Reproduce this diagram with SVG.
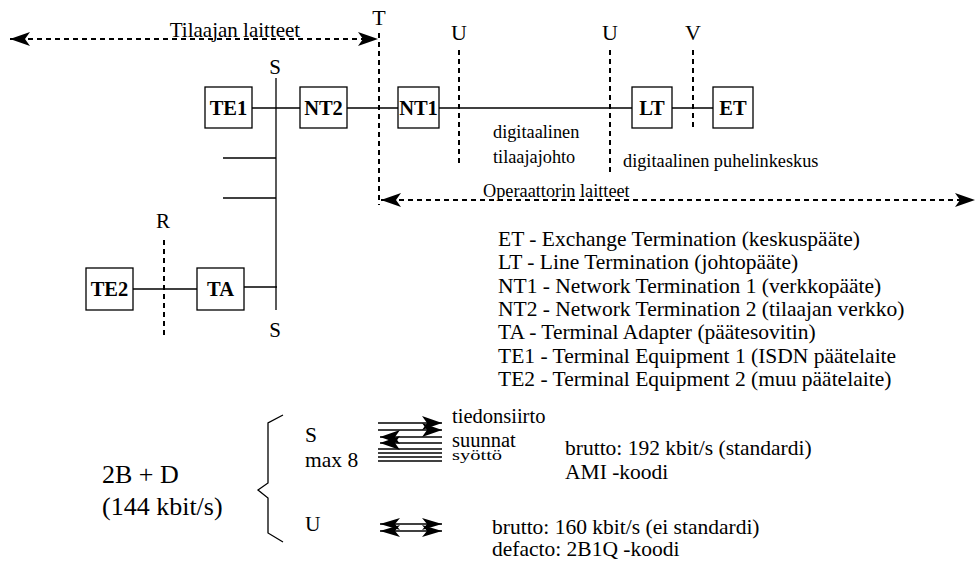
<svg xmlns="http://www.w3.org/2000/svg" width="977" height="561" viewBox="0 0 977 561">
<style>
text{font-family:'Liberation Serif','Tinos','Times New Roman','Nimbus Roman','DejaVu Serif',serif;fill:#000}
.lbl{font-size:18.3px}
.pt{font-size:22px;text-anchor:middle}
.box{font-size:20.5px;font-weight:bold;text-anchor:middle}
.leg{font-size:21.5px}
.bt{font-size:21.5px}
.sm{font-size:20.5px}
.big{font-size:26px}
rect{fill:#fff;stroke:#000;stroke-width:1.3}
.ln{stroke:#000;stroke-width:1.3;fill:none}
.dash{stroke:#000;stroke-width:2;stroke-dasharray:5 4;fill:none}
</style>
<defs>
<marker id="ah" markerUnits="userSpaceOnUse" markerWidth="22" markerHeight="16" refX="20" refY="7" orient="auto-start-reverse" viewBox="0 0 22 16">
<path d="M0,0 L20,7 L0,14 L5,7 z" fill="#000"/>
</marker>
<marker id="ah2" markerUnits="userSpaceOnUse" markerWidth="22" markerHeight="16" refX="20" refY="6" orient="auto-start-reverse" viewBox="0 0 22 16">
<path d="M0,0 L20,6 L0,12 L5,6 z" fill="#000"/>
</marker>
</defs>
<g id="connectors">
<line class="dash" x1="10" y1="39" x2="378" y2="39" marker-start="url(#ah)" marker-end="url(#ah)"/>
<line class="dash" x1="381" y1="200" x2="975" y2="200" marker-start="url(#ah)" marker-end="url(#ah)"/>
<line class="dash" x1="379" y1="33" x2="379" y2="205"/>
<line class="dash" x1="459" y1="50" x2="459" y2="164"/>
<line class="dash" x1="610" y1="50" x2="610" y2="174"/>
<line class="dash" x1="693" y1="50" x2="693" y2="130"/>
<line class="dash" x1="164" y1="240" x2="164" y2="338"/>
<line class="ln" x1="276" y1="78" x2="276" y2="310"/>
<line class="ln" x1="252" y1="108" x2="300" y2="108"/>
<line class="ln" x1="347" y1="108" x2="398" y2="108"/>
<line class="ln" x1="439" y1="108" x2="632" y2="108"/>
<line class="ln" x1="672" y1="108" x2="713" y2="108"/>
<line class="ln" x1="223" y1="158" x2="276" y2="158"/>
<line class="ln" x1="223" y1="198" x2="276" y2="198"/>
<line class="ln" x1="133" y1="289" x2="197" y2="289"/>
<line class="ln" x1="242" y1="287" x2="277" y2="287"/>
</g>
<g id="TE1"><rect x="205" y="87" width="47" height="41"/><text class="box" x="228.5" y="115">TE1</text></g>
<g id="NT2"><rect x="300" y="87" width="47" height="41"/><text class="box" x="323.5" y="115">NT2</text></g>
<g id="NT1"><rect x="398" y="87" width="41" height="41"/><text class="box" x="418.5" y="115">NT1</text></g>
<g id="LT"><rect x="632" y="87" width="40" height="41"/><text class="box" x="652" y="115">LT</text></g>
<g id="ET"><rect x="713" y="87" width="40" height="41"/><text class="box" x="733" y="115">ET</text></g>
<g id="TE2"><rect x="86" y="268" width="47" height="42"/><text class="box" x="109.5" y="296">TE2</text></g>
<g id="TA"><rect x="197" y="268" width="47" height="42"/><text class="box" x="220.5" y="296">TA</text></g>
<g id="labels">
<text x="235" y="37" text-anchor="middle" style="font-size:21px">Tilaajan laitteet</text>
<text class="pt" x="379" y="25">T</text>
<text class="pt" x="459" y="40">U</text>
<text class="pt" x="610" y="40">U</text>
<text class="pt" x="693" y="40">V</text>
<text class="pt" x="275" y="74" style="font-size:21px">S</text>
<text class="pt" x="275" y="337" style="font-size:21px">S</text>
<text class="pt" x="163" y="228" style="font-size:21px">R</text>
<text class="lbl" x="493" y="138">digitaalinen</text>
<text class="lbl" x="493" y="163">tilaajajohto</text>
<text class="lbl" x="623" y="167">digitaalinen puhelinkeskus</text>
<text class="lbl" x="483" y="197">Operaattorin laitteet</text>
</g>
<g id="legend">
<text class="leg" x="498" y="246">ET - Exchange Termination (keskuspääte)</text>
<text class="leg" x="498" y="269">LT - Line Termination (johtopääte)</text>
<text class="leg" x="498" y="293">NT1 - Network Termination 1 (verkkopääte)</text>
<text class="leg" x="498" y="316">NT2 - Network Termination 2 (tilaajan verkko)</text>
<text class="leg" x="498" y="339">TA - Terminal Adapter (päätesovitin)</text>
<text class="leg" x="498" y="363">TE1 - Terminal Equipment 1 (ISDN päätelaite</text>
<text class="leg" x="498" y="386">TE2 - Terminal Equipment 2 (muu päätelaite)</text>
</g>
<g id="bottom">
<text class="big" x="102" y="483">2B + D</text>
<text class="big" x="102" y="515">(144 kbit/s)</text>
<polyline class="ln" points="283,415 268,423 268,483 258,490 268,498 268,533 283,542"/>
<text class="bt" x="305" y="442">S</text>
<text class="bt" x="305" y="467">max 8</text>
<text class="bt" x="305" y="531">U</text>
<line class="ln" x1="378" y1="423" x2="442" y2="423" marker-end="url(#ah)"/>
<line class="ln" x1="378" y1="430" x2="442" y2="430" marker-end="url(#ah)"/>
<line class="ln" x1="380" y1="437" x2="442" y2="437" marker-start="url(#ah)"/>
<line class="ln" x1="380" y1="443" x2="442" y2="443" marker-start="url(#ah)"/>
<line class="ln" x1="378" y1="449" x2="442" y2="449"/>
<line class="ln" x1="378" y1="453" x2="442" y2="453"/>
<line class="ln" x1="378" y1="457" x2="442" y2="457"/>
<line class="ln" x1="378" y1="461" x2="442" y2="461"/>
<text class="sm" x="452" y="423">tiedonsiirto</text>
<text class="sm" x="452" y="447">suunnat</text>
<text class="sm" transform="translate(452,460) scale(1,0.72)">syöttö</text>
<line class="ln" x1="380" y1="524" x2="442" y2="524" marker-start="url(#ah2)" marker-end="url(#ah2)"/>
<line class="ln" x1="380" y1="531" x2="442" y2="531" marker-start="url(#ah2)" marker-end="url(#ah2)"/>
<text class="bt" x="565" y="455">brutto: 192 kbit/s (standardi)</text>
<text class="bt" x="565" y="479">AMI -koodi</text>
<text class="bt" x="492" y="534">brutto: 160 kbit/s (ei standardi)</text>
<text class="bt" x="492" y="556">defacto: 2B1Q -koodi</text>
</g>
</svg>
